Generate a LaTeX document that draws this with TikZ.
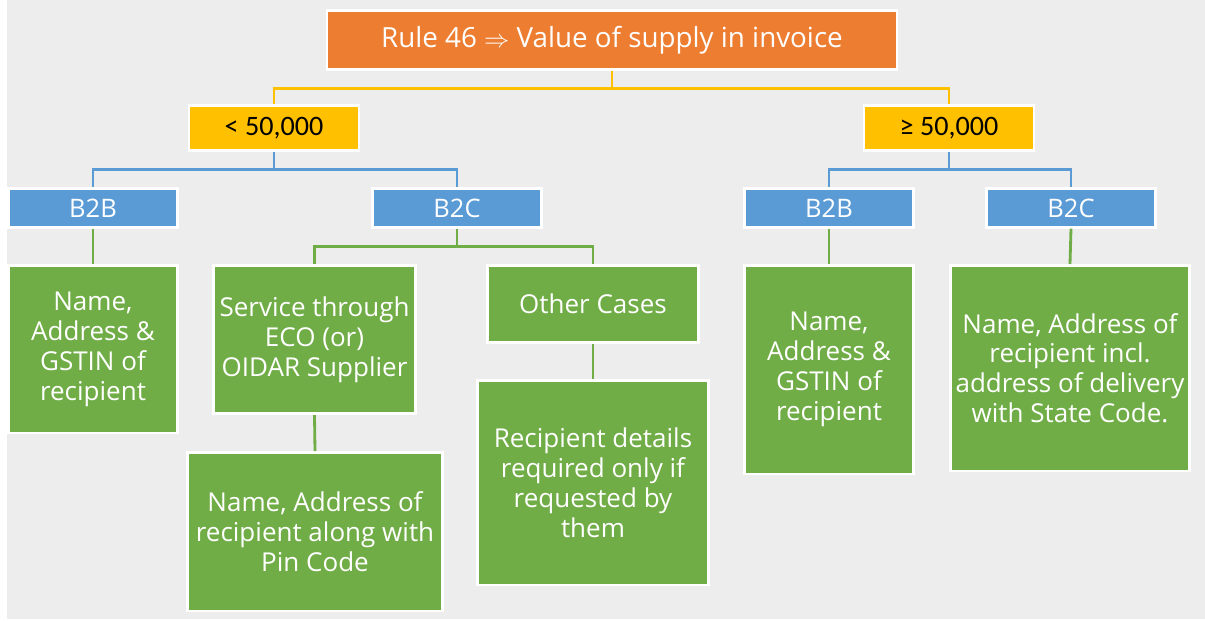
\documentclass[tikz,border=0pt]{standalone}
\usepackage{fontspec}
\setmainfont{Open Sans}
\newfontfamily\calfont{Carlito}
\usepackage{tikz}
\definecolor{bggray}{HTML}{EDEDED}
\definecolor{rulered}{HTML}{ED7D31}
\definecolor{limityel}{HTML}{FFC000}
\definecolor{typeblue}{HTML}{5B9BD5}
\definecolor{infogreen}{HTML}{70AD47}
\tikzstyle{rulebox} = [rectangle, minimum width=11.4cm, minimum height=1.17cm, text centered, draw=white, line width=1.5pt, fill=rulered, text=white, font=\fontsize{15.8}{18}\selectfont]
\tikzstyle{limit} = [rectangle, minimum width=3.4cm, minimum height=0.9cm, text centered, draw=white, line width=1.5pt, fill=limityel, text=black, font=\calfont\fontsize{16}{19}\selectfont]
\tikzstyle{kind} = [rectangle, minimum width=3.37cm, minimum height=0.77cm, text centered, draw=white, line width=1.5pt, fill=typeblue, text=white, font=\fontsize{14.5}{17}\selectfont]
\tikzstyle{detail} = [rectangle, anchor=north, align=center, draw=white, line width=1.5pt, fill=infogreen, text=white, inner sep=1pt, font=\fontsize{14.8}{17}\selectfont]
\tikzstyle{yline} = [draw=limityel, line width=1.6pt]
\tikzstyle{bline} = [draw=typeblue, line width=1.6pt]
\tikzstyle{gline} = [draw=infogreen, line width=1.6pt]

\begin{document}
\begin{tikzpicture}
    \useasboundingbox (0,0) rectangle (24.1,-12.42);
    \fill [bggray] (0.14,0) rectangle (24.1,-12.38);

    \node (rule) [rulebox] at (12.24,-0.80) {Rule 46 $\Rightarrow$ Value of supply in invoice};
    \node (low) [limit] at (5.48,-2.56) {< 50,000};
    \node (high) [limit] at (18.98,-2.56) {≥ 50,000};

    \node (lowb2b) [kind] at (1.86,-4.16) {B2B};
    \node (lowb2c) [kind] at (9.14,-4.16) {B2C};
    \node (highb2b) [kind] at (16.58,-4.16) {B2B};
    \node (highb2c) [kind] at (21.42,-4.16) {B2C};

    \node (lowgstin) [detail, minimum width=3.37cm, minimum height=3.35cm] at (1.86,-5.28) {Name,\\Address \&\\GSTIN of\\recipient};
    \node (eco) [detail, minimum width=4.03cm, minimum height=2.97cm] at (6.29,-5.28) {Service through\\ECO (or)\\OIDAR Supplier};
    \node (other) [detail, minimum width=4.21cm, minimum height=1.55cm] at (11.86,-5.28) {Other Cases};
    \node (pincode) [detail, minimum width=5.09cm, minimum height=3.17cm] at (6.30,-9.02) {Name, Address of\\recipient along with\\Pin Code};
    \node (onrequest) [detail, minimum width=4.61cm, minimum height=4.09cm] at (11.86,-7.58) {Recipient details\\required only if\\requested by\\them};
    \node (highgstin) [detail, minimum width=3.37cm, minimum height=4.17cm] at (16.58,-5.28) {Name,\\Address \&\\GSTIN of\\recipient};
    \node (statecode) [detail, minimum width=4.77cm, minimum height=4.11cm] at (21.40,-5.28) {Name, Address of\\recipient incl.\\address of delivery\\with State Code.};

    % value split
    \draw [yline] (rule.south) -- ++(0,-0.36) -| (low.north);
    \draw [yline] (rule.south) -- ++(0,-0.36) -| (high.north);
    % supply type
    \draw [bline] (low.south) -- ++(0,-0.36) -| (lowb2b.north);
    \draw [bline] (low.south) -- ++(0,-0.36) -| (lowb2c.north);
    \draw [bline] (high.south) -- ++(0,-0.36) -| (highb2b.north);
    \draw [bline] (high.south) -- ++(0,-0.36) -| (highb2c.north);
    % details
    \draw [gline] (lowb2b.south) -- (lowgstin.north);
    \draw [gline] (lowb2c.south) -- ++(0,-0.36) -| (eco.north);
    \draw [gline] (lowb2c.south) -- ++(0,-0.36) -| (other.north);
    \draw [gline] (eco.south) -- (pincode.north);
    \draw [gline] (other.south) -- (onrequest.north);
    \draw [gline] (highb2b.south) -- (highgstin.north);
    \draw [gline] (highb2c.south) -- (statecode.north);
\end{tikzpicture}
\end{document}
